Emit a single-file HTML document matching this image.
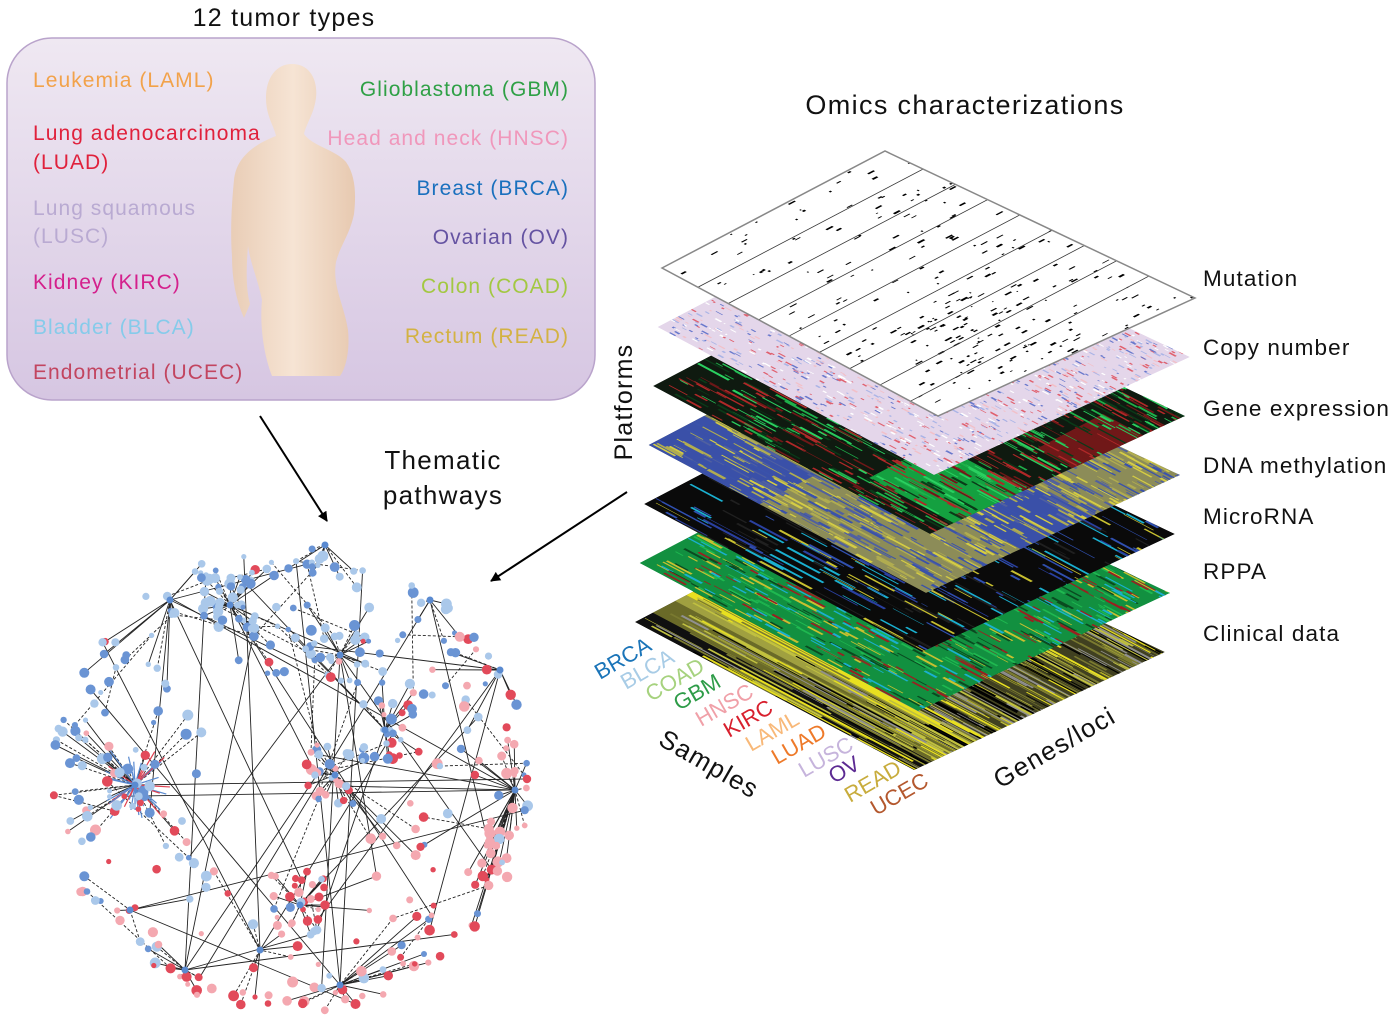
<!DOCTYPE html>
<html><head><meta charset="utf-8"><style>
html,body{margin:0;padding:0;background:#fff;}
svg{display:block;font-family:"Liberation Sans",sans-serif;}
.t{letter-spacing:0.05em;}
</style></head><body>
<svg id="s" width="1395" height="1026" viewBox="0 0 1395 1026" xmlns="http://www.w3.org/2000/svg">
<defs>
<linearGradient id="pg" x1="0" y1="0" x2="0" y2="1"><stop offset="0" stop-color="#efe8f2"/><stop offset="1" stop-color="#d6c6e2"/></linearGradient>
<linearGradient id="skin" x1="0" y1="0" x2="1" y2="0"><stop offset="0" stop-color="#e9cdb6"/><stop offset="0.5" stop-color="#f6e4d4"/><stop offset="1" stop-color="#e7c9b0"/></linearGradient>
<marker id="ah" markerWidth="10" markerHeight="10" refX="9" refY="5" orient="auto" markerUnits="userSpaceOnUse" viewBox="0 0 10 10"><path d="M0,0 L10,5 L0,10 z" fill="#000"/></marker>
</defs>
<rect x="7" y="38" width="588" height="362" rx="45" fill="url(#pg)" stroke="#b9a3cb" stroke-width="1.5"/>
<text class="t" x="284" y="26" font-size="25" text-anchor="middle" fill="#111">12 tumor types</text>
<path fill="url(#skin)" d="M292,64 C310,64 318,80 316,98 C314,114 306,124 304,134 C312,146 336,150 346,162 C356,176 356,196 354,214 C350,234 340,246 336,262 C332,286 344,304 348,330 C350,350 346,368 340,376 L272,376 C262,350 260,320 262,300 C258,280 250,262 248,246 C246,270 246,290 250,304 L244,318 C236,300 232,280 232,256 C230,230 232,200 234,180 C236,160 250,146 276,136 C274,126 266,116 266,98 C266,78 276,64 292,64 Z"/>
<g font-size="21" class="t">
<text x="33" y="87" fill="#f2a24a">Leukemia (LAML)</text>
<text x="33" y="140" fill="#e0213c">Lung adenocarcinoma</text>
<text x="33" y="169" fill="#e0213c">(LUAD)</text>
<text x="33" y="215" fill="#b9aad2">Lung squamous</text>
<text x="33" y="243" fill="#b9aad2">(LUSC)</text>
<text x="33" y="289" fill="#d4208c">Kidney (KIRC)</text>
<text x="33" y="334" fill="#86cbea">Bladder (BLCA)</text>
<text x="33" y="379" fill="#c24560">Endometrial (UCEC)</text>
<g text-anchor="end">
<text x="569" y="96" fill="#2fa046">Glioblastoma (GBM)</text>
<text x="569" y="145" fill="#f097bb">Head and neck (HNSC)</text>
<text x="569" y="195" fill="#1a70be">Breast (BRCA)</text>
<text x="569" y="244" fill="#6553a2">Ovarian (OV)</text>
<text x="569" y="293" fill="#a3c842">Colon (COAD)</text>
<text x="569" y="343" fill="#d3b243">Rectum (READ)</text>
</g></g>
<text class="t" x="965" y="114" font-size="27" text-anchor="middle" fill="#111">Omics characterizations</text>
<g font-size="22.5" fill="#111" class="t">
<text x="1203" y="286">Mutation</text>
<text x="1203" y="355">Copy number</text>
<text x="1203" y="416">Gene expression</text>
<text x="1203" y="473">DNA methylation</text>
<text x="1203" y="524">MicroRNA</text>
<text x="1203" y="579">RPPA</text>
<text x="1203" y="641">Clinical data</text>
</g>
<text class="t" transform="translate(632,402) rotate(-90)" font-size="25" text-anchor="middle" fill="#111">Platforms</text>
<text class="t" x="443" y="469" font-size="26" text-anchor="middle" fill="#111">Thematic</text>
<text class="t" x="443" y="504" font-size="26" text-anchor="middle" fill="#111">pathways</text>
<line x1="260" y1="416" x2="327" y2="521" stroke="#000" stroke-width="2" marker-end="url(#ah)"/>
<line x1="627" y1="492" x2="491" y2="581" stroke="#000" stroke-width="2" marker-end="url(#ah)"/>
<g id="layers"></g>
<g id="net"></g>
<g font-size="22">
<text transform="translate(600,680) rotate(-30)" fill="#1a74b8">BRCA</text>
<text transform="translate(626,690) rotate(-30)" fill="#a8cce6">BLCA</text>
<text transform="translate(651,702) rotate(-30)" fill="#a6d27e">COAD</text>
<text transform="translate(679,711) rotate(-30)" fill="#2e9c48">GBM</text>
<text transform="translate(701,727) rotate(-30)" fill="#f0a0a8">HNSC</text>
<text transform="translate(729,738) rotate(-30)" fill="#d8202e">KIRC</text>
<text transform="translate(751,752) rotate(-30)" fill="#f8b878">LAML</text>
<text transform="translate(777,765) rotate(-30)" fill="#ee7a2a">LUAD</text>
<text transform="translate(804,778) rotate(-30)" fill="#c6b4dc">LUSC</text>
<text transform="translate(834,784) rotate(-30)" fill="#5c2a92">OV</text>
<text transform="translate(850,803) rotate(-30)" fill="#c8ac3c">READ</text>
<text transform="translate(876,816) rotate(-30)" fill="#b4582e">UCEC</text>
<text class="t" transform="translate(657,744) rotate(30)" font-size="26" fill="#111">Samples</text>
<text class="t" transform="translate(1000,789) rotate(-30)" font-size="26" fill="#111">Genes/loci</text>
</g>
</svg>
<script>
(function(){
var NS="http://www.w3.org/2000/svg";
var seed=12345;function rnd(){seed|=0;seed=seed+0x6D2B79F5|0;var t=Math.imul(seed^seed>>>15,1|seed);t=t+Math.imul(t^t>>>7,61|t)^t;return((t^t>>>14)>>>0)/4294967296;}
function el(n,a,p){var e=document.createElementNS(NS,n);for(var k in a)e.setAttribute(k,a[k]);(p||null)&&p.appendChild(e);return e;}
var lg=document.getElementById("layers");
var defs=document.querySelector("defs");
var specs=[
 {base:"#ffffff",cols:["#000"],n:320,w:[0.002,0.005],len:[0.005,0.03]},
 {base:"#e4d6ea",cols:["#e0606e","#6878cc","#f2c0c8","#aab4e6","#fff"],n:2200,w:[0.003,0.008],len:[0.005,0.025]},
 {base:"#0f1a10",cols:["#1fb04a","#b02828","#0a3a18","#2ad060","#701818"],n:1200,w:[0.003,0.01],len:[0.02,0.12]},
 {base:"#8c8c58",cols:["#d4cc44","#3a52aa","#5060a0","#b0ac50"],n:1400,w:[0.003,0.012],len:[0.02,0.12]},
 {base:"#0a0a0a",cols:["#2a40a0","#1ab0d0","#3050b0","#c8c030","#202020"],n:500,w:[0.002,0.01],len:[0.02,0.2]},
 {base:"#129040",cols:["#9a2020","#1fb850","#0a4a20","#1ab0d0","#c8c030"],n:1200,w:[0.003,0.01],len:[0.02,0.1]},
 {base:"#404020",cols:["#e8e020","#909090","#000","#7a7a30","#c0c040"],n:700,w:[0.002,0.01],len:[0.05,0.5]}
];
for(var i=6;i>=0;i--){
 var L=[662-4.5*i,268+59*i],T=[885-4.5*i,151+59*i],B=[938-4*i,416+59*i],R=[1195-5*i,298+59*i];
 var pts=[L,T,R,B].map(function(p){return p.join(",")}).join(" ");
 var cp=el("clipPath",{id:"c"+i},defs);el("polygon",{points:pts},cp);
 var g=el("g",{"clip-path":"url(#c"+i+")"},lg);
 el("polygon",{points:pts,fill:specs[i].base},g);
 var m=el("g",{transform:"matrix("+(T[0]-L[0])+","+(T[1]-L[1])+","+(B[0]-L[0])+","+(B[1]-L[1])+","+L[0]+","+L[1]+")"},g);
 var s=specs[i];
 if(i==6){
  el("rect",{x:0.0,y:0,width:0.08,height:1.2,fill:"#101010"},m);
  el("rect",{x:0.08,y:0,width:0.1,height:1.2,fill:"#6a6a28"},m);
  el("rect",{x:0.18,y:0,width:0.05,height:1.2,fill:"#a0a040"},m);
  el("rect",{x:0.23,y:0,width:0.03,height:1.2,fill:"#e8e020"},m);
 }
 if(i==3){el("rect",{x:0.0,y:0,width:0.25,height:0.4,fill:"#3a50a8"},m);el("rect",{x:0.4,y:0.6,width:0.3,height:0.6,fill:"#3a50a8"},m);}
 if(i==2){el("rect",{x:0.3,y:0.3,width:0.08,height:0.2,fill:"#c02828"},m);el("rect",{x:0.1,y:0.7,width:0.3,height:0.4,fill:"#14a040"},m);el("rect",{x:0.6,y:0.9,width:0.3,height:0.3,fill:"#701818"},m);}
 for(var k=0;k<s.n;k++){
  var u=rnd()*1.15,v=rnd()*1.2;
  var w=s.w[0]+rnd()*(s.w[1]-s.w[0]),h=s.len[0]+rnd()*(s.len[1]-s.len[0]);
  if(i==0){var t2=w;w=h;h=t2*1.5;if(rnd()<0.3){u=0.15+rnd()*0.6;v=0.6+rnd()*0.5;}}
  el("rect",{x:u.toFixed(4),y:v.toFixed(4),width:w.toFixed(4),height:h.toFixed(4),fill:s.cols[Math.floor(rnd()*s.cols.length)]},m);
 }
 if(i==0){
  for(var q=1;q<9;q++){var vv=q*0.11+0.02;el("line",{x1:0,y1:vv,x2:1.2,y2:vv,stroke:"#333","stroke-width":0.003},m);}
  el("polygon",{points:pts,fill:"none",stroke:"#888","stroke-width":1.5},lg);
 }
}
var ng=document.getElementById("net");
var cx=290,cy=780,rx=240,ry=235;
var hubs=[[135,785],[230,605],[340,655],[385,730],[335,775],[300,905],[170,600],[325,545],[430,600],[500,670],[515,790],[130,910],[260,950],[340,985],[185,970]];
var nodes=[];
for(var k=0;k<470;k++){
 var a=rnd()*Math.PI*2,r=Math.sqrt(0.15+0.85*rnd());
 if(rnd()<0.45)r=0.85+0.15*rnd();
 var x=cx+Math.cos(a)*rx*r,y=cy+Math.sin(a)*ry*r;
 if(rnd()<0.35){var h=hubs[Math.floor(rnd()*6)];x=h[0]+(rnd()-0.5)*60;y=h[1]+(rnd()-0.5)*60;}
 nodes.push([x,y]);
}
var eg=el("g",{stroke:"#222","stroke-width":0.9},ng);
nodes.forEach(function(n,idx){
 var best=null,bd=1e9;
 hubs.forEach(function(h){var d=Math.hypot(h[0]-n[0],h[1]-n[1]);if(d<bd){bd=d;best=h;}});
 if(rnd()<0.55){el("line",{x1:n[0],y1:n[1],x2:best[0],y2:best[1],"stroke-dasharray":rnd()<0.4?"3,2":"none"},eg);}
 else{var o=nodes[Math.floor(rnd()*nodes.length)];if(Math.hypot(o[0]-n[0],o[1]-n[1])<120)el("line",{x1:n[0],y1:n[1],x2:o[0],y2:o[1],"stroke-dasharray":"3,2"},eg);}
 if(rnd()<0.08){var h2=hubs[Math.floor(rnd()*hubs.length)];el("line",{x1:n[0],y1:n[1],x2:h2[0],y2:h2[1]},eg);}
});
for(var k=0;k<40;k++){el("line",{x1:135,y1:785,x2:135+(rnd()-0.5)*70,y2:785+(rnd()-0.5)*70,stroke:rnd()<0.5?"#e04050":"#5a8ad0","stroke-width":1.2},ng);}
nodes.forEach(function(n){
 var pr=Math.min(0.85,Math.max(0.05,(n[1]-640)/330+(n[0]-300)/900));
 var red=rnd()<pr;var dark=rnd()<0.4;
 var c=red?(dark?"#e24a5a":"#f4a8b0"):(dark?"#6a94d4":"#aac8ea");
 el("circle",{cx:n[0].toFixed(1),cy:n[1].toFixed(1),r:(2.5+rnd()*3).toFixed(1),fill:c},ng);
});
hubs.forEach(function(h){el("circle",{cx:h[0],cy:h[1],r:3.5,fill:"#5a8ad0"},ng);});
})();
</script>
</body></html>
